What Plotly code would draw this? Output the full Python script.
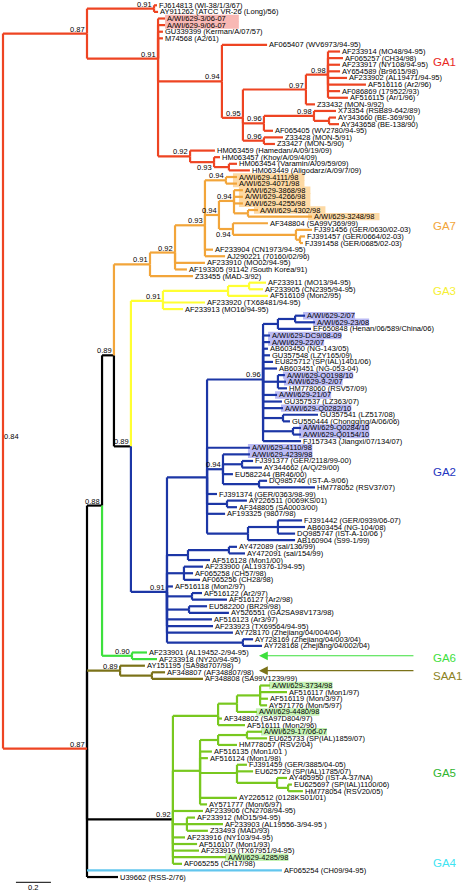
import plotly.graph_objects as go

# ---------------- colours ----------------
RED, ORANGE, YELLOW, BLUE = "#ee4422", "#f2a53a", "#ffff33", "#1c36a6"
GREEN6, OLIVE, GREEN5, CYAN, BLACK = "#3de03d", "#7b7219", "#78c81f", "#62c6ee", "#000000"
HILITE = {RED: "#f8b8b4", ORANGE: "#fdd9a4", BLUE: "#babaf4", GREEN5: "#c4f2b4"}
HILITE_PAD = {RED: (0, 14), ORANGE: (-4, 6), BLUE: (-2, 1), GREEN5: (-1, 1)}


def L(name, d, c=None, v=None):
    return dict(name=name, d=d, c=c, v=v, k=None, kids=None, s=None, below=False)


def N(d, s, kids, c=None, v=None, k=None, below=False):
    return dict(d=d, s=s, kids=kids, c=c, v=v, k=k, below=below)


# ---------------- tree data (node depth in substitutions/site, support) ----------------
GA1 = N(1.251, 0.94, [
    L("AF065407 (WV6973/94-95)", 1.509),
    N(1.371, 0.95, [
        N(1.731, 0.97, [
            N(1.857, 0.98, [
                L("AF233914 (MO48/94-95)", 1.926),
                L("AF065257 (CH34/98)", 1.943),
                L("AF233917 (NY108/94-95)", 1.926),
                L("AY654589 (Br9615/98)", 1.926),
                L("AF233902 (AL19471/94-95)", 1.966),
                L("AF516116 (Ar2/96)", 2.074),
                L("AF086869 (179522/93)", 1.926),
                L("AF516115 (Ar/1/96)", 1.971)]),
            L("Z33432 (MON-9/92)", 1.783)]),
        N(1.491, 0.96, [
            N(1.777, 0.98, [
                L("X73354 (RSB89-642/89)", 1.903),
                N(1.863, None, [L("AY343660 (BE-369/90)", 1.903),
                                L("AY343658 (BE-138/90)", 1.920)])]),
            L("AF065405 (WV2780/94-95)", 1.543)]),
        N(1.491, 0.96, [L("Z33428 (MON-5/91)", 1.600),
                        L("Z33427 (MON-5/90)", 1.554)])])])

IRAN = N(1.069, 0.92, [
    L("HM063459 (Hamedan/A/09/19/09)", 1.211),
    N(1.206, 0.93, [
        L("HM063457 (Khoy/A/09/4/09)", 1.240),
        N(1.291, None, [L("HM063454 (Varamin/A/09/59/09)", 1.337),
                        L("HM063449 (Aligodarz/A/09/7/09)", 1.411)])], below=True)])

TOP = N(0.480, 0.87, [
    N(0.863, 0.91, [L("FJ614813 (WI-38/1/3/67)", 0.880),
                    L("AY911262 (ATCC VR-26 (Long)/56)", 0.886)]),
    N(0.886, 0.91, [
        L("A/WI/629-3/06-07", 0.926), L("A/WI/629-9/06-07", 0.926),
        L("GU339399 (Kerman/A/07/57)", 0.914), L("M74568 (A2/61)", 0.914),
        GA1, IRAN])], c=RED)

GA7 = N(0.840, 0.91, [
    N(0.983, 0.92, [
        N(1.154, 0.93, [
            N(1.274, 0.94, [L("A/WI/629-4111/98", 1.337), L("A/WI/629-4071/98", 1.337)]),
            N(1.234, 0.94, [
                N(1.320, 0.94, [
                    L("A/WI/629-3868/98", 1.371), L("A/WI/629-4266/98", 1.371),
                    L("A/WI/629-4255/98", 1.371),
                    N(1.400, None, [L("A/WI/629-4302/98", 1.457),
                                    L("A/WI/629-3248/98", 1.766)])]),
                N(1.314, 0.94, [
                    L("AF348804 (SA99V369/99)", 1.514),
                    N(1.674, None, [
                        L("FJ391456 (GER/0630/02-03)", 1.766),
                        N(1.697, None, [L("FJ391457 (GER/0664/02-03)", 1.726),
                                        L("FJ391458 (GER/0685/02-03)", 1.714)])])], below=True)]),
            L("AF233904 (CN1973/94-95)", 1.200),
            L("AJ290221 (70160/02/96)", 1.269)]),
        L("AF233910 (MO02/94-95)", 1.154),
        L("AF193305 (91142 /South Korea/91)", 1.051)]),
    L("Z33455 (MAD-3/92)", 1.086)], c=ORANGE)

GA3 = N(0.914, 0.91, [
    N(1.286, None, [
        N(1.406, None, [L("AF233911 (MO13/94-95)", 1.503), L("AF233905 (CN2395/94-95)", 1.486)]),
        L("AF516109 (Mon2/95)", 1.514)]),
    L("AF233920 (TX68481/94-95)", 1.154),
    L("AF233913 (MO16/94-95)", 1.029)], c=YELLOW)

GA2_BA = N(1.486, 0.96, [
    N(1.571, None, [
        N(1.669, None, [L("A/WI/629-2/07", 1.726), L("A/WI/629-23/08", 1.783)]),
        L("EF650848 (Henan/06/589/China/06)", 1.760)]),
    L("A/WI/629-DC9/08-09", 1.526), L("A/WI/629-22/07", 1.526),
    L("AB603450 (NG-143/05)", 1.514), L("GU357548 (LZY165/09)", 1.526),
    L("EU825712 (SP(IAL)1401/06)", 1.543), L("AB603451 (NG-053-04)", 1.566),
    N(1.571, None, [L("A/WI/629-Q0198/10", 1.611), L("A/WI/629-9-2/07", 1.617),
                    L("HM778060 (RSV57/09)", 1.623)]),
    L("A/WI/629-21/07", 1.566), L("GU357537 (LZ363/07)", 1.594),
    L("A/WI/629-Q0282/10", 1.600),
    N(1.600, None, [L("GU357541 (LZ517/08)", 1.800), L("GU550444 (Chongqing/A/06/06)", 1.640)]),
    N(1.657, None, [L("A/WI/629-Q0284/10", 1.703), L("A/WI/629-Q0154/10", 1.703)]),
    L("FJ157343 (Jiangxi/07/134/07)", 1.703)])

GA2 = N(0.937, 0.91, [
    N(1.166, None, [
        GA2_BA,
        L("A/WI/629-4110/98", 1.411),
        N(1.257, 0.94, [
            L("A/WI/629-4239/98", 1.411),
            N(1.366, None, [L("FJ391377 (GER/2118/99-00)", 1.429), L("AY344662 (A/Q/29/00)", 1.480)]),
            L("EU582244 (BR46/00)", 1.314),
            N(1.463, None, [L("DQ985746 (IST-A-9/06)", 1.509), L("HM778052 (RSV37/07)", 1.783)])]),
        L("FJ391374 (GER/0363/98-99)", 1.223),
        N(1.280, None, [L("AY226511 (0069KS/01)", 1.394), L("AF348805 (SA0003/00)", 1.337)]),
        L("AF193325 (9807/98)", 1.269),
        N(1.400, None, [
            N(1.571, None, [L("FJ391442 (GER/0939/06-07)", 1.709), L("AB603454 (NG-104/08)", 1.726),
                            L("DQ985747 (IST-A-10/06 )", 1.669)]),
            L("AB160904 (S99-1/99)", 1.669)])]),
    N(1.057, None, [
        N(1.291, None, [L("AY472089 (sal/136/99)", 1.337), L("AY472091 (sal/154/99)", 1.383)]),
        L("AF516128 (Mon1/00)", 1.183)]),
    N(1.034, None, [L("AF233900 (AL19376-1/94-95)", 1.143), L("AF065258 (CH57/98)", 1.086),
                    L("AF065256 (CH28/98)", 1.126)]),
    L("AF516118 (Mon2/97)", 0.971),
    N(1.080, None, [L("AF516122 (Ar2/97)", 1.137), L("AF516127 (Ar2/98)", 1.280)]),
    N(1.063, None, [L("EU582200 (BR29/98)", 1.166), L("AY526551 (GA2SA98V173/98)", 1.291)]),
    L("AF516123 (Ar3/97)", 1.194),
    L("AF233923 (TX69564/94-95)", 1.200),
    L("AY728170 (Zhejiang/04/004/04)", 1.314),
    N(1.371, None, [L("AY728169 (Zhejiang/04/003/04)", 1.429), L("AY728168 (Zhejiang/04/002/04)", 1.480)])],
    c=BLUE)

GA6 = N(0.737, 0.90, [L("AF233901 (AL19452-2/94-95)", 0.823), L("AF233918 (NY20/94-95)", 0.880)], c=GREEN6)

SAA1 = N(0.669, 0.89, [
    L("AY151195 (SA98d707/98)", 0.811),
    N(0.851, None, [L("AF348807 (AF348807/98)", 0.926), L("AF348808 (SA99V1239/99)", 1.143)])],
    c=OLIVE, v=BLACK)

GA5 = N(0.971, 0.92, [
    N(1.229, None, [
        N(1.337, None, [
            N(1.469, None, [L("A/WI/629-3734/98", 1.526), L("AF516117 (Mon1/97)", 1.623),
                            L("AF516119 (Mon/3/97)", 1.514), L("AY571776 (Mon/5/97)", 1.509)]),
            L("A/WI/629-4480/98", 1.451)]),
        L("AF348802 (SA97D804/97)", 1.251),
        L("AF516111 (Mon2/96)", 1.383)]),
    N(1.126, None, [
        N(1.229, None, [
            N(1.394, None, [L("A/WI/629-17/06-07", 1.480), L("EU625733 (SP(IAL)1859/07)", 1.509)]),
            L("HM778057 (RSV2/04)", 1.337)]),
        L("AF516135 (Mon1/01 )", 1.194),
        L("AF516124 (Mon1/98)", 1.171),
        N(1.337, None, [
            L("FJ391459 (GER/3885/04-05)", 1.394),
            L("EU625729 (SP(IAL)1785/07)", 1.429),
            N(1.566, None, [L("AY465950 (IST-A-37/NA)", 1.623),
                            N(1.629, None, [L("EU625697 (SP(IAL)1100/06)", 1.651),
                                            L("HM778054 (RSV20/05)", 1.714)])])]),
        L("AY226512 (0128KS01/01)", 1.337),
        L("AY571777 (Mon/6/97)", 1.166)]),
    L("AF233906 (CN2708/94-95)", 1.143),
    N(1.051, None, [L("AF233912 (MO15/94-95)", 1.097), L("AF233903 (AL19556-3/94-95 )", 1.257),
                    L("Z33493 (MAD/93)", 1.171)]),
    L("AF233916 (NY103/94-95)", 1.040),
    L("AF516107 (Mon1/93)", 1.109),
    L("AF233919 (TX67951/94-95)", 1.120),
    L("A/WI/629-4285/98", 1.274),
    L("AF065255 (CH17/98)", 1.023)], c=BLACK, k=GREEN5)

BOTTOM = N(0.480, 0.87, [
    N(0.566, 0.88, [
        N(0.634, 0.89, [GA7, N(0.731, 0.89, [GA3, GA2], c=BLACK)], c=BLACK),
        GA6], c=BLACK),
    SAA1,
    GA5,
    L("AF065254 (CH09/94-95)", 1.594, c=CYAN, v=BLACK),
    L("U39662 (RSS-2/76)", 0.657, c=BLACK)], c=RED, k=BLACK)

ROOT = N(0.0, None, [TOP, BOTTOM], c=RED)

# clade labels: (text, colour, leaf-row position); arrows: (clade node, colour)
CLADE_LABELS = [("GA1", "#e8281e", 8.6), ("GA7", "#f2a53a", 33.4), ("GA3", "#f6f032", 43.3),
                ("GA2", "#2436c0", 70.6), ("GA6", "#3de03d", 98.8), ("SAA1", "#8c8224", 101.6),
                ("GA5", "#2fb52f", 116.2), ("GA4", "#3fe4f2", 129.8)]
CLADE_LABEL_X = 2.451
ARROWS = [(GA6, GREEN6), (SAA1, OLIVE)]
ARROW_TAIL, ARROW_HEAD = 2.354, 1.463
ROOT_SUPPORT = ("0.84", 0.050, 65.3)
SCALE_LEN, SCALE_X, SCALE_ROW = 0.2, 0.074, 132.8

# ---------------- layout of tree ----------------
PX = 175.0  # pixels per unit (for padding only)
leaves = []


def place(n):
    if n["kids"] is None:
        n["y"] = len(leaves)
        leaves.append(n)
        return n["y"]
    ys = [place(ch) for ch in n["kids"]]
    n["y"] = sum(ys) / len(ys)
    return n["y"]


place(ROOT)

segs = {}
internal = []


def add(col, xs, ys):
    s = segs.setdefault(col, ([], []))
    s[0].extend(xs + [None])
    s[1].extend(ys + [None])


def walk(n, inherited):
    own = n["c"] or inherited
    n["col"] = own
    kcol = n["k"] or own
    if n["kids"]:
        internal.append(n)
        for ch in n["kids"]:
            cc = ch["c"] or kcol
            vc = ch["v"] or cc
            add(vc, [n["d"], n["d"]], [n["y"], ch["y"]])
            add(cc, [n["d"], ch["d"]], [ch["y"], ch["y"]])
            walk(ch, kcol)


walk(ROOT, RED)

W = {c: 0.556 for c in "0123456789"}
W.update({"A": .667, "W": .944, "I": .278, "Q": .778, "D": .722, "C": .722, "/": .278, "-": .333})
FS = 7.5
FONT = "Liberation Sans, Arial, sans-serif"

fig = go.Figure()
order = [BLACK, RED, ORANGE, YELLOW, BLUE, GREEN6, OLIVE, GREEN5, CYAN]
for col in order:
    if col in segs:
        xs, ys = segs[col]
        fig.add_trace(go.Scatter(x=xs, y=ys, mode="lines", line=dict(color=col, width=2.2),
                                 hoverinfo="skip", showlegend=False))

shapes = []
annotations = []
for lf in leaves:
    annotations.append(dict(x=lf["d"], y=lf["y"], text=lf["name"], showarrow=False, xanchor="left",
                            yanchor="middle", xshift=1, borderpad=0,
                            font=dict(size=FS, family=FONT, color="black")))
    if lf["name"].startswith("A/WI/629") and lf["col"] in HILITE:
        wpx = sum(W.get(ch, 0.556) for ch in lf["name"]) * FS
        pl, pr = HILITE_PAD[lf["col"]]
        shapes.append(dict(type="rect", xref="x", yref="y", x0=lf["d"] + pl / PX,
                           x1=lf["d"] + (1 + wpx + pr) / PX, y0=lf["y"] - 0.56, y1=lf["y"] + 0.56,
                           fillcolor=HILITE[lf["col"]], line=dict(width=0), layer="below"))

for n in internal:
    if n["s"] is None:
        continue
    annotations.append(dict(x=n["d"], y=n["y"], text=f"{n['s']:.2f}", showarrow=False, xanchor="right",
                            yanchor="top" if n["below"] else "bottom", xshift=-1, borderpad=0,
                            yshift=0 if n["below"] else -1,
                            font=dict(size=FS, family=FONT, color="black")))

annotations.append(dict(x=ROOT_SUPPORT[1], y=ROOT_SUPPORT[2], text=ROOT_SUPPORT[0], showarrow=False,
                        xanchor="center", yanchor="middle", borderpad=0,
                        font=dict(size=FS, family=FONT, color="black")))

for txt, col, row in CLADE_LABELS:
    annotations.append(dict(x=CLADE_LABEL_X, y=row, text=txt, showarrow=False, xanchor="left",
                            yanchor="middle", borderpad=0, font=dict(size=11.5, family=FONT, color=col)))

for node, col in ARROWS:
    annotations.append(dict(x=ARROW_HEAD, y=node["y"], ax=ARROW_TAIL, ay=node["y"], axref="x", ayref="y",
                            xref="x", yref="y", text="", showarrow=True, arrowhead=2, arrowsize=1.6,
                            arrowwidth=1.1, arrowcolor=col))

# scale bar
fig.add_trace(go.Scatter(x=[SCALE_X, SCALE_X + SCALE_LEN], y=[SCALE_ROW, SCALE_ROW], mode="lines",
                         line=dict(color="black", width=1), hoverinfo="skip", showlegend=False))
annotations.append(dict(x=SCALE_X + SCALE_LEN / 2, y=SCALE_ROW, text=str(SCALE_LEN), showarrow=False,
                        xanchor="center", yanchor="top", yshift=0, borderpad=0,
                        font=dict(size=FS, family=FONT, color="black")))

Y0, DY = 5.3, 6.604
fig.update_layout(
    width=463, height=892, margin=dict(l=0, r=0, t=0, b=0),
    paper_bgcolor="white", plot_bgcolor="white", showlegend=False, hovermode=False,
    xaxis=dict(visible=False, range=[-3 / PX, 460 / PX], fixedrange=True),
    yaxis=dict(visible=False, range=[(892 - Y0) / DY, -Y0 / DY], fixedrange=True),
    shapes=shapes, annotations=annotations,
)
fig.write_html("out.html", config={"displayModeBar": False},
               post_script="document.body.style.margin='0';document.body.style.overflow='hidden';")
